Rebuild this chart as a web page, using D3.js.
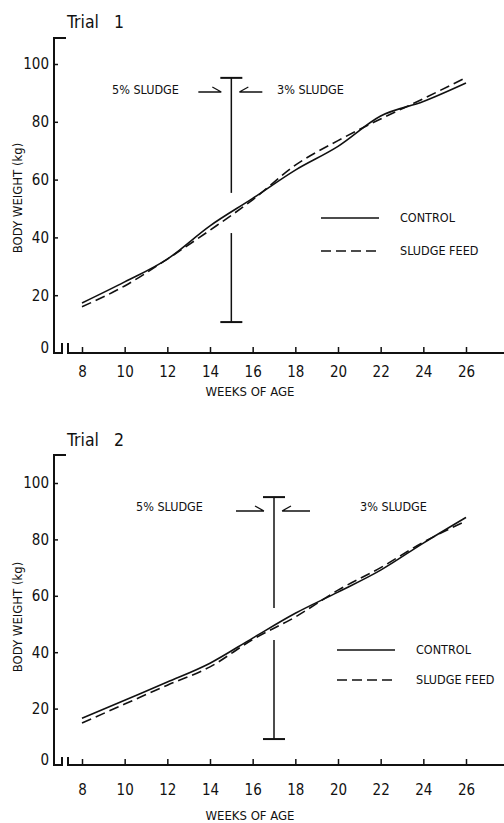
<!DOCTYPE html>
<html lang="en">
<head>
<meta charset="UTF-8">
<title>Body weight, trials 1 and 2</title>
<script src="https://cdn.jsdelivr.net/npm/d3@7"></script>
<style>
  body { margin: 0; background: #fff; }
  text { font-family: "Liberation Sans Narrow", "DejaVu Sans Condensed", sans-serif; fill: #111; }
</style>
</head>
<body>
<script>
// weeks of age and body weights (kg)
var weeks = [8, 10, 12, 14, 16, 18, 20, 22, 24, 26];
var control1 = [17.3, 24.6, 32.5, 44.0, 53.5, 63.3, 71.5, 82.0, 87.0, 93.4];
var sludge1  = [16.0, 23.2, 32.5, 42.5, 53.0, 65.0, 73.5, 81.0, 88.0, 95.3];
var control2 = [16.6, 23.0, 29.4, 36.1, 45.0, 53.8, 61.3, 69.1, 78.7, 87.8];
var sludge2  = [14.9, 21.6, 28.3, 34.8, 44.5, 52.5, 62.0, 70.0, 79.0, 86.5];
var yTicks = [0, 20, 40, 60, 80, 100];
var xTicks = [8, 10, 12, 14, 16, 18, 20, 22, 24, 26];
// error bar: week, low, gap low, gap high, high
var bar1 = [15, 10.7, 41.5, 55.4, 95.2];
var bar2 = [17, 9.2, 44.3, 55.7, 95.0];

var W = 504, H = 823;
var svg = d3.select('body').append('svg')
    .attr('width', W)
    .attr('height', H);

function drawPanel(p) {
    var g = svg.append('g');
    var x = d3.scaleLinear().domain([8, 26]).range([82, 466]);
    var y = d3.scaleLinear().domain([0, 100]).range([p.y0, p.y100]);

    // y axis with bracket at top and break at bottom
    g.append('path')
        .attr('d', 'M66,' + p.yTop + 'H54V' + p.y0 + 'H62V' + (p.y0 - p.brk))
        .attr('fill', 'none').attr('stroke', '#111').attr('stroke-width', 2);
    g.append('path')
        .attr('d', 'M68,' + (p.y0 - p.brk) + 'V' + p.y0 + 'H504')
        .attr('fill', 'none').attr('stroke', '#111').attr('stroke-width', 2);

    var ya = g.append('g').attr('transform', 'translate(54,0)')
        .call(d3.axisLeft(y).tickValues(yTicks.slice(1)).tickSize(-4).tickPadding(5));
    ya.select('.domain').remove();
    ya.selectAll('line').attr('stroke', '#111').attr('stroke-width', 1.5);
    ya.selectAll('text').attr('font-size', 15).attr('font-family', null).attr('fill', '#111');
    // zero label sits left of the break
    g.append('text').attr('x', 49).attr('y', p.y0 - 5).attr('dy', '0.35em')
        .attr('text-anchor', 'end').attr('font-size', 15).text(yTicks[0]);

    var xa = g.append('g').attr('transform', 'translate(0,' + p.y0 + ')')
        .call(d3.axisBottom(x).tickValues(xTicks).tickSize(-6));
    xa.select('.domain').remove();
    xa.selectAll('line').attr('stroke', '#111').attr('stroke-width', 1.5);
    xa.selectAll('text').attr('font-size', 15).attr('font-family', null).attr('fill', '#111')
        .attr('y', p.tickLab).attr('dy', '0.35em');

    // titles
    g.append('text').attr('x', 67).attr('y', p.titleY).attr('dy', '0.35em')
        .attr('font-size', 17.5).style('white-space', 'pre').text(p.title);
    g.append('text').attr('x', 250).attr('y', p.xlabY).attr('dy', '0.35em')
        .attr('text-anchor', 'middle').attr('font-size', 13).text('WEEKS OF AGE');
    g.append('text').attr('transform', 'translate(17,' + p.ylabY + ') rotate(-90)')
        .attr('dy', '0.35em').attr('text-anchor', 'middle').attr('font-size', 13)
        .text('BODY WEIGHT (kg)');

    // series
    var line = d3.line().x(function(d, i) { return x(weeks[i]); })
        .y(function(d) { return y(d); }).curve(d3.curveMonotoneX);
    g.append('path').datum(p.control).attr('d', line)
        .attr('fill', 'none').attr('stroke', '#111').attr('stroke-width', 1.6);
    g.append('path').datum(p.sludge).attr('d', line)
        .attr('fill', 'none').attr('stroke', '#111').attr('stroke-width', 1.6)
        .attr('stroke-dasharray', '10,5');

    // error bar, interrupted where the curves cross it
    var b = p.bar, bx = x(b[0]);
    g.selectAll('.seg').data([[b[1], b[2]], [b[3], b[4]]]).enter().append('line')
        .attr('x1', bx).attr('x2', bx)
        .attr('y1', function(d) { return y(d[0]); })
        .attr('y2', function(d) { return y(d[1]); })
        .attr('stroke', '#111').attr('stroke-width', 1.5);
    g.selectAll('.cap').data([b[1], b[4]]).enter().append('line')
        .attr('x1', bx - 11).attr('x2', bx + 11)
        .attr('y1', function(d) { return y(d); })
        .attr('y2', function(d) { return y(d); })
        .attr('stroke', '#111').attr('stroke-width', 2);

    // arrows toward the bar
    var ay = p.arrowY;
    var arrows = [[bx - 10, -1], [bx + 8, 1]];
    arrows.forEach(function(a) {
        var tip = a[0], s = a[1];
        g.append('path')
            .attr('d', 'M' + (tip + s * p.shaft) + ',' + ay + 'H' + tip +
                'M' + (tip + s * 9) + ',' + (ay - 5) + 'L' + tip + ',' + ay)
            .attr('fill', 'none').attr('stroke', '#111').attr('stroke-width', 1.3);
    });
    g.append('text').attr('x', p.lab5).attr('y', p.textY).attr('dy', '0.35em')
        .attr('font-size', 12.5).text('5% SLUDGE');
    g.append('text').attr('x', p.lab3).attr('y', p.textY).attr('dy', '0.35em')
        .attr('font-size', 12.5).text('3% SLUDGE');

    // legend
    var leg = [['CONTROL', null, p.legY[0]], ['SLUDGE FEED', '10,5', p.legY[1]]];
    leg.forEach(function(l) {
        g.append('line').attr('x1', p.legX).attr('x2', p.legX + 58)
            .attr('y1', l[2]).attr('y2', l[2])
            .attr('stroke', '#111').attr('stroke-width', 1.6)
            .attr('stroke-dasharray', l[1]);
        g.append('text').attr('x', p.legX + 79).attr('y', l[2]).attr('dy', '0.35em')
            .attr('font-size', 12.5).text(l[0]);
    });
}

drawPanel({
    title: 'Trial   1', titleY: 22, yTop: 38, y0: 353, y100: 64, brk: 10,
    tickLab: 19, xlabY: 391, ylabY: 198,
    control: control1, sludge: sludge1, bar: bar1,
    arrowY: 92, shaft: 23, textY: 90, lab5: 112, lab3: 277,
    legX: 321, legY: [218, 251]
});
drawPanel({
    title: 'Trial   2', titleY: 440, yTop: 455, y0: 765, y100: 483, brk: 8,
    tickLab: 25, xlabY: 815, ylabY: 617,
    control: control2, sludge: sludge2, bar: bar2,
    arrowY: 511, shaft: 28, textY: 507, lab5: 136, lab3: 360,
    legX: 337, legY: [650, 680]
});
</script>
</body>
</html>
